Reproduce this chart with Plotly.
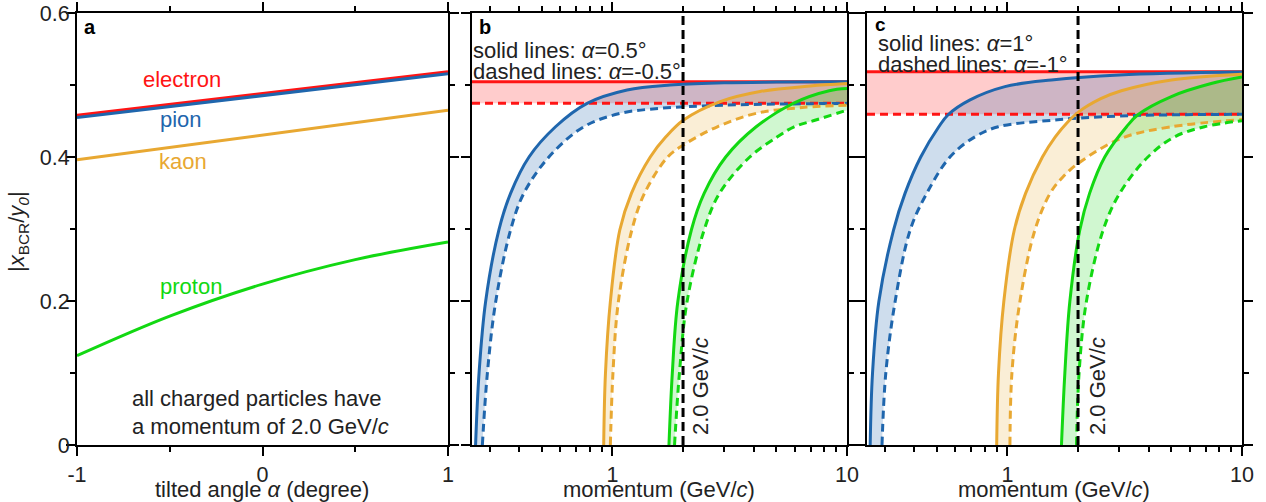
import plotly.graph_objects as go

# ---------------- data ----------------
# panel a: ratio vs tilted angle at p = 2.0 GeV/c
angle_lin = [-1.0, 0.0, 1.0]
a_electron = [0.458, 0.4885, 0.5185]
a_pion = [0.455, 0.4855, 0.5155]
a_kaon = [0.396, 0.431, 0.465]
angle_proton = [-1.0, -0.5, 0.0, 0.5, 1.0]
a_proton = [0.124, 0.179, 0.2235, 0.2575, 0.282]

# panel b: alpha = +0.5 deg (solid) / -0.5 deg (dashed)
b_electron = [0.5046, 0.4745]
b_pion_p_s = [0.261, 0.270, 0.288, 0.328, 0.368, 0.441, 0.572, 0.780, 1.155, 1.76, 3.0, 5.0, 10.0]
b_pion_y_s = [0.0, 0.0995, 0.199, 0.2986, 0.3495, 0.400, 0.442, 0.4745, 0.493, 0.500, 0.503, 0.504, 0.5046]
b_pion_p_d = [0.279, 0.293, 0.318, 0.368, 0.419, 0.536, 0.755, 1.08, 1.6, 3.0, 10.0]
b_pion_y_d = [0.0, 0.0995, 0.199, 0.2986, 0.3495, 0.400, 0.442, 0.4606, 0.4676, 0.472, 0.4745]
b_kaon_p_s = [0.918, 0.934, 0.98, 1.075, 1.205, 1.45, 1.69, 2.01, 2.88, 4.26, 6.96, 10.0]
b_kaon_y_s = [0.0, 0.0995, 0.199, 0.2986, 0.3495, 0.400, 0.428, 0.4514, 0.477, 0.491, 0.4986, 0.502]
b_kaon_p_d = [0.98, 1.005, 1.06, 1.21, 1.37, 1.72, 2.01, 2.80, 4.1, 6.6, 10.0]
b_kaon_y_d = [0.0, 0.0995, 0.199, 0.2986, 0.3495, 0.400, 0.4167, 0.442, 0.4606, 0.469, 0.472]
b_proton_p_s = [1.742, 1.80, 1.90, 2.17, 2.46, 3.04, 4.10, 5.9, 8.4, 10.0]
b_proton_y_s = [0.0, 0.0995, 0.199, 0.2986, 0.3495, 0.400, 0.442, 0.4745, 0.492, 0.495]
b_proton_p_d = [1.84, 1.93, 2.08, 2.46, 2.86, 3.85, 5.05, 5.95, 7.3, 10.0]
b_proton_y_d = [0.0, 0.0995, 0.199, 0.2986, 0.3495, 0.400, 0.428, 0.442, 0.451, 0.465]

# panel c: alpha = +1 deg (solid) / -1 deg (dashed)
c_electron = [0.5185, 0.4593]
c_pion_p_s = [0.26, 0.266, 0.283, 0.327, 0.366, 0.427, 0.510, 0.560, 0.690, 0.976, 1.54, 3.0, 10.0]
c_pion_y_s = [0.0, 0.0995, 0.199, 0.2986, 0.3495, 0.400, 0.442, 0.459, 0.479, 0.4977, 0.507, 0.514, 0.518]
c_pion_p_d = [0.292, 0.303, 0.332, 0.385, 0.453, 0.569, 0.727, 0.914, 1.54, 3.0, 10.0]
c_pion_y_d = [0.0, 0.0995, 0.199, 0.2986, 0.3495, 0.400, 0.428, 0.442, 0.451, 0.457, 0.4593]
c_kaon_p_s = [0.90, 0.916, 0.965, 1.07, 1.195, 1.41, 1.60, 1.80, 2.0, 2.5, 3.06, 5.0, 10.0]
c_kaon_y_s = [0.0, 0.0995, 0.199, 0.2986, 0.3495, 0.400, 0.428, 0.448, 0.462, 0.481, 0.492, 0.507, 0.515]
c_kaon_p_d = [1.025, 1.045, 1.13, 1.31, 1.52, 1.72, 2.0, 3.06, 5.0, 10.0]
c_kaon_y_d = [0.0, 0.0995, 0.199, 0.2986, 0.3495, 0.372, 0.391, 0.426, 0.442, 0.452]
c_proton_p_s = [1.70, 1.757, 1.845, 2.035, 2.24, 2.60, 3.22, 3.61, 5.0, 7.39, 10.0]
c_proton_y_s = [0.0, 0.0995, 0.199, 0.2986, 0.3495, 0.400, 0.442, 0.459, 0.484, 0.502, 0.511]
c_proton_p_d = [1.97, 2.02, 2.17, 2.56, 3.01, 3.97, 5.16, 6.92, 10.0]
c_proton_y_d = [0.0, 0.0995, 0.199, 0.2986, 0.3495, 0.400, 0.428, 0.442, 0.4505]

P_RANGE = [0.252, 10.0]
P_MARK = 2.0

# ---------------- style ----------------
FONT = "Liberation Sans, Arial, Helvetica, sans-serif"
TXT = "#222"
FS = 22
RED = "#ff1414"
BLUE = "#1f66ad"
ORANGE = "#e8a832"
GREEN = "#12d812"
FILL = {
    RED: "rgba(255,0,0,0.20)",
    BLUE: "rgba(31,102,173,0.22)",
    ORANGE: "rgba(232,168,50,0.20)",
    GREEN: "rgba(18,216,18,0.20)",
}
LW = 3
DASH = "8px,5px"
SMOOTH = 1.0
W, H = 1266, 502

fig = go.Figure()


def line(x, y, color, xa, ya, dash=None, shape="spline"):
    fig.add_trace(go.Scatter(
        x=x, y=y, mode="lines", xaxis=xa, yaxis=ya, showlegend=False,
        hoverinfo="skip",
        line=dict(color=color, width=LW, dash=dash, shape=shape, smoothing=SMOOTH),
    ))


def band(xs, ys, xd, yd, color, xa, ya):
    # shaded region between the solid and the dashed curve of one particle
    fig.add_trace(go.Scatter(
        x=xs, y=ys, mode="lines", xaxis=xa, yaxis=ya, showlegend=False,
        hoverinfo="skip", line=dict(width=0, shape="spline", smoothing=SMOOTH),
    ))
    fig.add_trace(go.Scatter(
        x=xd, y=yd, mode="lines", fill="tonexty", fillcolor=FILL[color],
        xaxis=xa, yaxis=ya, showlegend=False, hoverinfo="skip",
        line=dict(width=0, shape="spline", smoothing=SMOOTH),
    ))


# panel a
line(angle_lin, a_electron, RED, "x", "y", shape="linear")
line(angle_lin, a_pion, BLUE, "x", "y", shape="linear")
line(angle_lin, a_kaon, ORANGE, "x", "y", shape="linear")
line(angle_proton, a_proton, GREEN, "x", "y")

# panels b and c
panels = [
    ("x2", "y2", b_electron,
     [(b_pion_p_s, b_pion_y_s, b_pion_p_d, b_pion_y_d, BLUE),
      (b_kaon_p_s, b_kaon_y_s, b_kaon_p_d, b_kaon_y_d, ORANGE),
      (b_proton_p_s, b_proton_y_s, b_proton_p_d, b_proton_y_d, GREEN)]),
    ("x3", "y3", c_electron,
     [(c_pion_p_s, c_pion_y_s, c_pion_p_d, c_pion_y_d, BLUE),
      (c_kaon_p_s, c_kaon_y_s, c_kaon_p_d, c_kaon_y_d, ORANGE),
      (c_proton_p_s, c_proton_y_s, c_proton_p_d, c_proton_y_d, GREEN)]),
]
for xa, ya, ele, curves in panels:
    band(P_RANGE, [ele[0]] * 2, P_RANGE, [ele[1]] * 2, RED, xa, ya)
    for ps, ys, pd_, yd, col in curves:
        band(ps, ys, pd_, yd, col, xa, ya)
    line(P_RANGE, [ele[0]] * 2, RED, xa, ya, shape="linear")
    line(P_RANGE, [ele[1]] * 2, RED, xa, ya, dash=DASH, shape="linear")
    for ps, ys, pd_, yd, col in curves:
        line(ps, ys, col, xa, ya)
        line(pd_, yd, col, xa, ya, dash=DASH)
    fig.add_trace(go.Scatter(
        x=[P_MARK, P_MARK], y=[0, 0.6], mode="lines", xaxis=xa, yaxis=ya,
        showlegend=False, hoverinfo="skip",
        line=dict(color="black", width=3, dash="9px,5px"),
    ))

# ---------------- axes ----------------
def px(x):
    return x / W


def py(y):
    return 1 - y / H


ydom = [py(445), py(13)]
minor_style = dict(ticklen=5, tickwidth=2, tickcolor="black", ticks="outside")
axis_common = dict(
    showline=True, linecolor="black", linewidth=2, mirror="ticks",
    ticks="outside", ticklen=9, tickwidth=2, tickcolor="black",
    showgrid=False, zeroline=False, automargin=False,
    tickfont=dict(family=FONT, size=21.5, color=TXT),
)
yaxis_common = dict(
    axis_common, range=[0, 0.6], tickvals=[0, 0.2, 0.4, 0.6],
    ticktext=["0", "0.2", "0.4", "0.6"], ticklabelstandoff=-8,
    minor=dict(minor_style, tickvals=[0.1, 0.3, 0.5]),
)
logx_common = dict(
    axis_common, type="log", range=[-0.5986, 1.0], tickvals=[1, 10],
    ticktext=["1", "10"],
    minor=dict(minor_style, tickvals=[0.3, 0.4, 0.5, 0.6, 0.7, 0.8, 0.9,
                                      2, 3, 4, 5, 6, 7, 8, 9]),
)

fig.update_layout(
    width=W, height=H, autosize=False,
    margin=dict(l=0, r=0, t=0, b=0, autoexpand=False),
    paper_bgcolor="white", plot_bgcolor="white",
    font=dict(family=FONT, size=FS, color=TXT),
    xaxis=dict(axis_common, domain=[px(77), px(448)], range=[-1, 1],
               tickvals=[-1, 0, 1], ticktext=["-1", "0", "1"],
               minor=dict(minor_style, tickvals=[-0.5, 0.5]),
               anchor="y"),
    yaxis=dict(yaxis_common, domain=ydom, anchor="x"),
    xaxis2=dict(logx_common, domain=[px(472), px(847)], anchor="y2"),
    yaxis2=dict(yaxis_common, domain=ydom, anchor="x2", showticklabels=False),
    xaxis3=dict(logx_common, domain=[px(867), px(1242)], anchor="y3"),
    yaxis3=dict(yaxis_common, domain=ydom, anchor="x3", showticklabels=False),
)

# ---------------- text ----------------
ann = []


def text(x, y, s, color=TXT, size=FS, xanchor="center", angle=0):
    ann.append(dict(x=px(x), y=py(y), xref="paper", yref="paper", text=s,
                    showarrow=False, xanchor=xanchor, yanchor="middle",
                    textangle=angle,
                    font=dict(family=FONT, size=size, color=color)))


text(82, 27, "<b>a</b>", "black", 20, "left")
text(477, 27, "<b>b</b>", "black", 20, "left")
text(873, 25, "<b>c</b>", "black", 19, "left")

text(182, 80, "electron", RED)
text(181, 119, "pion", BLUE)
text(183, 162, "kaon", ORANGE)
text(191, 286, "proton", GREEN)
text(130, 398, "all charged particles have", xanchor="left")
text(130, 426, "a momentum of 2.0 GeV/<i>c</i>", xanchor="left")

text(471, 50, "solid lines: <i>α</i>=0.5°", xanchor="left")
text(471, 72, "dashed lines: <i>α</i>=-0.5°", xanchor="left")
text(876, 43, "solid lines: <i>α</i>=1°", xanchor="left")
text(876, 64, "dashed lines: <i>α</i>=-1°", xanchor="left")

text(700, 386, "2.0 GeV/<i>c</i>", angle=-90)
text(1097, 386, "2.0 GeV/<i>c</i>", angle=-90)

text(262, 489, "tilted angle <i>α</i> (degree)")
text(659, 489, "momentum (GeV/<i>c</i>)")
text(1054, 489, "momentum (GeV/<i>c</i>)")
text(18, 232, "|<i>x</i><sub>BCR</sub>/<i>y</i><sub><i>0</i></sub>|", angle=-90)

fig.update_layout(annotations=ann)
fig.write_html("out.html", config={"responsive": False})
